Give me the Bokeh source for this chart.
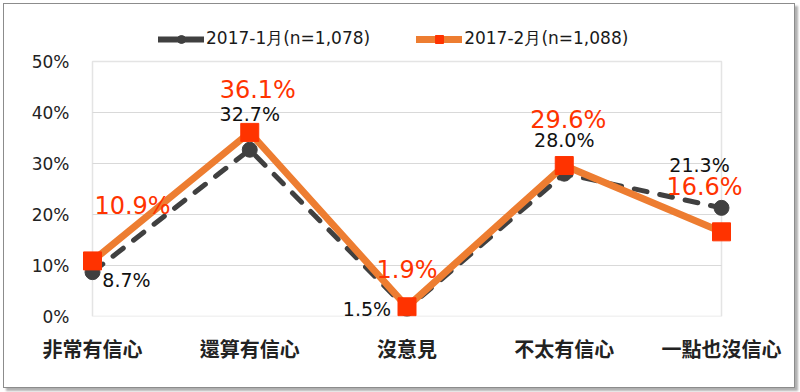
from bokeh.plotting import figure
from bokeh.models import ColumnDataSource, FixedTicker, PrintfTickFormatter, Legend, LegendItem, BoxAnnotation
from bokeh.core.properties import value
from bokeh.embed import file_html
from bokeh.resources import INLINE

categories = ["非常有信心", "還算有信心", "沒意見", "不太有信心", "一點也沒信心"]
jan_values = [8.7, 32.7, 1.5, 28.0, 21.3]
feb_values = [10.9, 36.1, 1.9, 29.6, 16.6]
jan_name = "2017-1月(n=1,078)"
feb_name = "2017-2月(n=1,088)"
y_ticks = [0, 10, 20, 30, 40, 50]

# label offsets in pixels (layout only)
jan_xo = [34, 0, -40, 0, -22]
jan_yo = [8, -36, 0, -34, -43]
feb_xo = [40, 8, 0, 4, -17]
feb_yo = [-55, -42, -37, -46, -45]

xs = list(range(len(categories)))
n_last = len(categories) - 1
y_max = y_ticks[-1]
nan = float("nan")

# layout in pixels
W, H = 792, 385
frame_left_px, frame_right_px = 78, 742     # plot frame (incl. padding) inside figure
frame_top_px, frame_bottom_px = 17, 312
cat_px = 157.25                              # pixels per category step
pct_px = 5.1                                 # pixels per percent
pad_l = 10 / cat_px
pad_r = (frame_right_px - frame_left_px - 10 - n_last * cat_px) / cat_px
top_extra = (frame_bottom_px - frame_top_px) / pct_px - y_max

p = figure(width=W, height=H, output_backend="svg", toolbar_location=None,
           x_range=(-pad_l, n_last + pad_r), y_range=(0, y_max + top_extra),
           min_border_left=frame_left_px, min_border_right=W - frame_right_px,
           min_border_top=frame_top_px, min_border_bottom=H - frame_bottom_px)
p.styles = {"border": "1px solid #8c8c8c", "box-shadow": "3px 3px 2px #b0b0b0",
            "box-sizing": "border-box", "margin": "3px"}
p.outline_line_color = None
p.background_fill_color = "white"
p.border_fill_color = "white"

p.xgrid.grid_line_color = None
p.ygrid.grid_line_color = None

p.segment(x0=0, x1=n_last, y0=y_ticks[1:-1], y1=y_ticks[1:-1], line_color="#D9D9D9", line_width=1)
frame_box = BoxAnnotation(left=0, right=n_last, bottom=0, top=y_max, fill_color=None,
                          line_color="#A6A6A6", line_width=1.5, level="underlay")
p.add_layout(frame_box)

p.yaxis.ticker = FixedTicker(ticks=y_ticks)
p.yaxis.formatter = PrintfTickFormatter(format="%d%%")
p.yaxis.major_tick_line_color = None
p.yaxis.major_tick_out = 0
p.yaxis.major_tick_in = 0
p.yaxis.minor_tick_line_color = None
p.yaxis.axis_line_color = None
p.yaxis.major_label_text_font = "DejaVu Sans"
p.yaxis.major_label_text_font_size = "17px"
p.yaxis.major_label_text_color = "#222222"
p.yaxis.major_label_standoff = 13

p.xaxis.ticker = FixedTicker(ticks=xs)
p.xaxis.major_label_overrides = {i: c for i, c in zip(xs, categories)}
p.xaxis.major_tick_line_color = None
p.xaxis.major_tick_out = 0
p.xaxis.major_tick_in = 0
p.xaxis.minor_tick_line_color = None
p.xaxis.axis_line_color = None
p.xaxis.major_label_text_font = "Noto Sans CJK TC"
p.xaxis.major_label_text_font_size = "20px"
p.xaxis.major_label_text_font_style = "bold"
p.xaxis.major_label_text_color = "#222222"
p.xaxis.major_label_standoff = 17

jan_src = ColumnDataSource(dict(x=xs, y=jan_values, label=[f"{v:.1f}%" for v in jan_values], xo=jan_xo, yo=jan_yo))
feb_src = ColumnDataSource(dict(x=xs, y=feb_values, label=[f"{v:.1f}%" for v in feb_values], xo=feb_xo, yo=feb_yo))

jl = p.line("x", "y", source=jan_src, line_color="#404040", line_width=5, line_dash="13 13", line_cap="round")
jm = p.scatter("x", "y", source=jan_src, marker="circle", size=15, fill_color="#404040", line_color="#404040")
fl = p.line("x", "y", source=feb_src, line_color="#ED7D31", line_width=7, line_join="round")
fm = p.scatter("x", "y", source=feb_src, marker="square", size=18, fill_color="#FF3300", line_color="#FF3300")

# legend-only glyphs (not visible in the plot): solid key lines as in the reference
jan_key = p.line(x=[nan, nan], y=[nan, nan], line_color="#404040", line_width=6, line_cap="round")
feb_key = p.line(x=[nan, nan], y=[nan, nan], line_color="#ED7D31", line_width=7, line_cap="round")
jan_key_m = p.scatter(x=[nan], y=[nan], marker="circle", size=11, fill_color="#404040", line_color="#404040")
feb_key_m = p.scatter(x=[nan], y=[nan], marker="square", size=12, fill_color="#FF3300", line_color="#FF3300")

p.text("x", "y", text="label", source=jan_src, x_offset="xo", y_offset="yo",
       text_align="center", text_baseline="middle", text_font=value("DejaVu Sans"),
       text_font_size="19px", text_color="#111111")
p.text("x", "y", text="label", source=feb_src, x_offset="xo", y_offset="yo",
       text_align="center", text_baseline="middle", text_font=value("DejaVu Sans"),
       text_font_size="24px", text_color="#FF3300")

legend = Legend(items=[LegendItem(label=jan_name, renderers=[jan_key, jan_key_m]),
                       LegendItem(label=feb_name, renderers=[feb_key, feb_key_m])],
                orientation="horizontal", location=(76, 266),
                glyph_width=46, glyph_height=20, padding=0, margin=0, spacing=46,
                label_text_font="DejaVu Sans", label_text_font_size="17px",
                label_text_color="#1a1a1a", label_standoff=2,
                border_line_color=None, background_fill_alpha=0)
p.add_layout(legend, "center")

open("out.html", "w").write(file_html(p, INLINE))
